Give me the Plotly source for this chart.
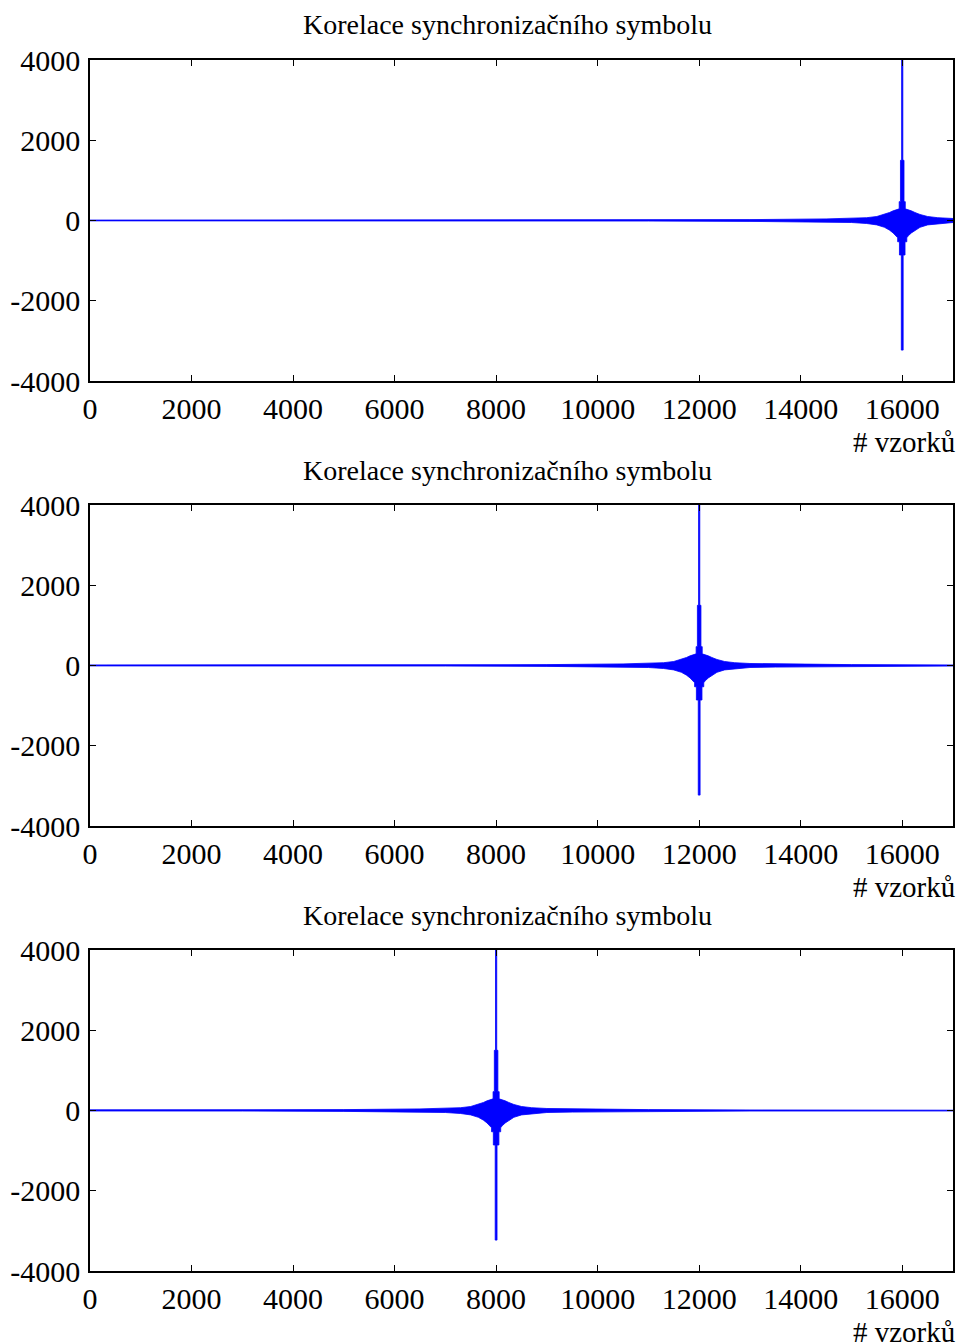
import plotly.graph_objects as go

# ---- data ----
title_text = "Korelace synchronizačního symbolu"
xlabel_text = "# vzorků"
peak_positions = [16000, 12000, 8000]          # sample index of correlation peak per panel
x_ticks = [0, 2000, 4000, 6000, 8000, 10000, 12000, 14000, 16000]
y_ticks = [-4000, -2000, 0, 2000, 4000]

# upper envelope of the correlation around the peak (offset in samples, value)
upper_offsets = [-20000, -5000, -3000, -1500, -1000, -700, -500, -350, -250, -180, -120, -60,
                 -60, -35, -35, -12, -12, 12, 12, 35, 35, 60, 60,
                 120, 180, 250, 350, 500, 700, 1000, 1500, 3000, 5000, 20000]
upper_values = [8, 14, 22, 40, 50, 70, 100, 150, 200, 240, 270, 290,
                470, 470, 1500, 1500, 4000, 4000, 1500, 1500, 470, 470, 290,
                270, 240, 200, 150, 100, 70, 50, 40, 22, 14, 8]
# lower envelope
lower_offsets = [-20000, -5000, -3000, -1500, -1000, -700, -500, -350, -250, -180, -120, -90,
                 -90, -55, -55, -18, -18, 18, 18, 55, 55, 90, 90,
                 120, 180, 250, 350, 500, 700, 1000, 1500, 3000, 5000, 20000]
lower_values = [-8, -14, -22, -40, -50, -75, -110, -170, -240, -310, -380, -430,
                -530, -530, -860, -860, -3230, -3230, -860, -860, -530, -530, -430,
                -380, -310, -240, -170, -110, -75, -50, -40, -22, -14, -8]

W, H = 958, 1344
x_left, x_right = 90, 953
panels_px = [(60, 381), (505, 826), (950, 1271)]
blue = "#0000FF"
serif = "Liberation Serif, Times New Roman, serif"
tick_font = dict(family=serif, size=30, color="black")

fig = go.Figure()
layout = dict(
    width=W, height=H, margin=dict(l=0, r=0, t=0, b=0, autoexpand=False),
    paper_bgcolor="white", plot_bgcolor="white", showlegend=False, template="none",
)
annotations = []
for i, (peak, (top, bot)) in enumerate(zip(peak_positions, panels_px)):
    n = "" if i == 0 else str(i + 1)
    xs = [peak + o for o in upper_offsets] + [peak + o for o in lower_offsets[::-1]]
    ys = upper_values + lower_values[::-1]
    fig.add_trace(go.Scatter(
        x=xs, y=ys, mode="lines", fill="toself", fillcolor=blue,
        line=dict(color=blue, width=0.8), xaxis="x" + n, yaxis="y" + n,
        hoverinfo="skip"))
    dom_y = [1 - bot / H, 1 - top / H]
    layout["xaxis" + n] = dict(
        domain=[x_left / W, x_right / W], range=[0, 17000], anchor="y" + n,
        tickvals=x_ticks, ticktext=[str(v) for v in x_ticks], automargin=False,
        ticks="inside", ticklen=6, tickcolor="black", tickwidth=1,
        showline=True, linecolor="black", linewidth=1.5, mirror="allticks",
        showgrid=False, zeroline=False, tickfont=tick_font, ticklabelstandoff=0)
    layout["yaxis" + n] = dict(
        domain=dom_y, range=[-4000, 4000], anchor="x" + n, automargin=False,
        tickvals=y_ticks, ticktext=[str(v) for v in y_ticks],
        ticks="inside", ticklen=6, tickcolor="black", tickwidth=1,
        showline=True, linecolor="black", linewidth=1.5, mirror="allticks",
        showgrid=False, zeroline=False, tickfont=tick_font, ticklabelstandoff=2)
    annotations.append(dict(
        text=title_text, x=507 / W, y=1 - (top - 35) / H, xref="paper", yref="paper",
        xanchor="center", yanchor="middle", showarrow=False,
        font=dict(family=serif, size=28, color="black")))
    annotations.append(dict(
        text=xlabel_text, x=957 / W, y=1 - (bot + 61) / H, xref="paper", yref="paper",
        xanchor="right", yanchor="middle", showarrow=False,
        font=dict(family=serif, size=29, color="black")))

layout["annotations"] = annotations
fig.update_layout(**layout)
fig.write_html("out.html", config={"responsive": False, "displayModeBar": False},
               post_script="document.body.style.margin='0';document.body.style.overflow='hidden';")
